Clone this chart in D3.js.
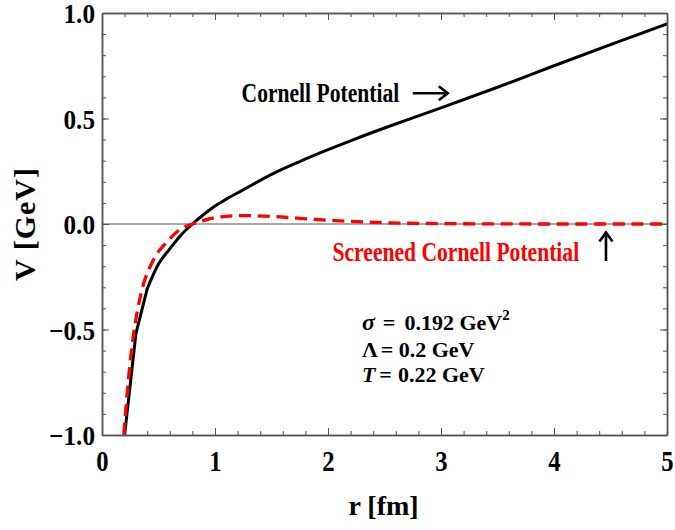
<!DOCTYPE html>
<html>
<head>
<meta charset="utf-8">
<script src="https://cdn.jsdelivr.net/npm/d3@7"></script>
<style>
  body { margin: 0; background: #fff; }
  text { font-family: "Liberation Serif", "Times New Roman", serif; font-weight: bold; }
</style>
</head>
<body>
<svg id="chart"></svg>
<script>
var width = 675
var height = 530
var margin = {top: 13, right: 8, bottom: 95, left: 102}

// r in fm, V in GeV
var cornellR = [0.2, 0.3, 0.4, 0.5, 0.6, 0.7, 0.8, 0.9, 1.0, 1.1, 1.25, 1.5, 1.75, 2.0, 2.25, 2.5, 2.75, 3.0, 3.5, 4.0, 4.5, 5.0]
var cornellV = [-1.0, -0.52, -0.307, -0.19, -0.118, -0.052, 0.0, 0.045, 0.085, 0.118, 0.162, 0.235, 0.296, 0.352, 0.405, 0.455, 0.503, 0.55, 0.648, 0.75, 0.85, 0.948]

var screenedR = [0.193, 0.235, 0.28, 0.35, 0.45, 0.575, 0.7, 0.8, 0.9, 1.0, 1.25, 1.5, 1.75, 2.0, 2.5, 3.0, 4.0, 5.0]
var screenedV = [-1.0, -0.73, -0.52, -0.32, -0.175, -0.085, -0.022, 0.0, 0.017, 0.03, 0.04, 0.036, 0.027, 0.018, 0.006, 0.002, 0.0, 0.0]

var xTicks = [0, 1, 2, 3, 4, 5]
var yTicks = [-1.0, -0.5, 0.0, 0.5, 1.0]
var xMinor = d3.range(0, 5.001, 0.2)
var yMinor = d3.range(-1, 1.001, 0.1)

var w = width - margin.left - margin.right
var h = height - margin.top - margin.bottom

var svg = d3.select("#chart")
	.attr("width", width)
	.attr("height", height)

var g = svg.append("g")
	.attr("transform", "translate(" + margin.left + "," + margin.top + ")")

var x = d3.scaleLinear().domain([0, 5]).range([0, w])
var y = d3.scaleLinear().domain([-1, 1]).range([h, 0])

g.append("clipPath").attr("id", "clip")
	.append("rect").attr("width", w).attr("height", h + 2).attr("y", -1)

// zero line
g.append("line")
	.attr("x1", 0).attr("x2", w)
	.attr("y1", y(0)).attr("y2", y(0))
	.attr("stroke", "#555")
	.attr("stroke-width", 1.2)

var straight = d3.line()
	.x(function(d){ return x(d[0]) })
	.y(function(d){ return y(d[1]) })
var smooth = d3.line()
	.x(function(d){ return x(d[0]) })
	.y(function(d){ return y(d[1]) })
	.curve(d3.curveMonotoneX)

var cornell = d3.zip(cornellR, cornellV)

// the steep start is drawn with straight pieces (as sampled in the original), the rest smooth
g.append("path")
	.datum(cornell.slice(0, 3))
	.attr("clip-path", "url(#clip)")
	.attr("fill", "none")
	.attr("stroke", "black")
	.attr("stroke-width", 3)
	.attr("stroke-linejoin", "round")
	.attr("d", straight)

g.append("path")
	.datum(cornell.slice(2))
	.attr("clip-path", "url(#clip)")
	.attr("fill", "none")
	.attr("stroke", "black")
	.attr("stroke-width", 3)
	.attr("stroke-linecap", "round")
	.attr("d", smooth)

g.append("path")
	.datum(d3.zip(screenedR, screenedV))
	.attr("clip-path", "url(#clip)")
	.attr("fill", "none")
	.attr("stroke", "#f00")
	.attr("stroke-width", 3.3)
	.attr("stroke-dasharray", "12,6.7")
	.attr("d", smooth)

// frame with inward ticks on all sides
function frame(axis, tr) {
	var a = g.append("g").attr("transform", tr).call(axis)
	a.attr("color", "#555")
	a.select(".domain").attr("stroke-width", 1.5)
	return a
}
var none = function(){ return "" }

frame(d3.axisBottom(x).tickValues(xMinor).tickSize(-4).tickSizeOuter(0).tickFormat(none), "translate(0," + h + ")")
var bx = frame(d3.axisBottom(x).tickValues(xTicks).tickSize(-7).tickSizeOuter(0).tickPadding(15).tickFormat(d3.format("d")), "translate(0," + h + ")")
frame(d3.axisTop(x).tickValues(xMinor).tickSize(-4).tickSizeOuter(0).tickFormat(none), "translate(0,0)")
frame(d3.axisTop(x).tickValues(xTicks).tickSize(-7).tickSizeOuter(0).tickFormat(none), "translate(0,0)")
frame(d3.axisLeft(y).tickValues(yMinor).tickSize(-4).tickSizeOuter(0).tickFormat(none), "translate(0,0)")
var ly = frame(d3.axisLeft(y).tickValues(yTicks).tickSize(-7).tickSizeOuter(0).tickPadding(0)
	.tickFormat(function(d){ return d3.format(".1f")(d).replace("-", "\u2212") }), "translate(0,0)")
frame(d3.axisRight(y).tickValues(yMinor).tickSize(-4).tickSizeOuter(0).tickFormat(none), "translate(" + w + ",0)")
frame(d3.axisRight(y).tickValues(yTicks).tickSize(-7).tickSizeOuter(0).tickFormat(none), "translate(" + w + ",0)")

bx.selectAll(".tick text")
	.attr("fill", "black")
	.style("font-size", "29px")
	.attr("transform", "scale(0.85,1)")

ly.selectAll(".tick text")
	.attr("fill", "black")
	.style("font-size", "28px")
	.attr("x", -7 / 0.9)
	.attr("dy", "0.35em")
	.attr("transform", "scale(0.9,1)")

// axis titles
svg.append("text")
	.attr("x", margin.left + w / 2 - 1)
	.attr("y", 515)
	.attr("text-anchor", "middle")
	.style("font-size", "28px")
	.text("r [fm]")

svg.append("text")
	.attr("transform", "translate(35," + (margin.top + y(0)) + ") rotate(-90)")
	.attr("text-anchor", "middle")
	.attr("letter-spacing", "1")
	.style("font-size", "30px")
	.text("V [GeV]")

// curve labels
g.append("text")
	.attr("transform", "translate(" + x(1.235) + "," + y(0.58) + ") scale(0.8,1)")
	.style("font-size", "27px")
	.text("Cornell Potential")

g.append("path")
	.attr("d", "M" + x(2.75) + "," + y(0.62) + "H" + x(3.06)
		+ "M" + (x(3.06) - 9) + "," + (y(0.62) - 7) + "L" + x(3.06) + "," + y(0.62) + "L" + (x(3.06) - 9) + "," + (y(0.62) + 7))
	.attr("fill", "none")
	.attr("stroke", "black")
	.attr("stroke-width", 2.6)

g.append("text")
	.attr("transform", "translate(" + x(2.04) + "," + y(-0.175) + ") scale(0.8,1)")
	.attr("fill", "#f00")
	.style("font-size", "27px")
	.text("Screened Cornell Potential")

g.append("path")
	.attr("d", "M" + x(4.46) + "," + y(-0.175) + "V" + y(-0.04)
		+ "M" + (x(4.46) - 6.5) + "," + (y(-0.04) + 9) + "L" + x(4.46) + "," + y(-0.04) + "L" + (x(4.46) + 6.5) + "," + (y(-0.04) + 9))
	.attr("fill", "none")
	.attr("stroke", "black")
	.attr("stroke-width", 2.6)

// parameter box
var params = g.append("g").style("font-size", "22px")

var t1 = params.append("text").attr("x", x(2.3)).attr("y", y(-0.5))
t1.append("tspan").style("font-style", "italic").style("font-size", "24px").text("σ")
t1.append("tspan").attr("dx", 8).text("=")
t1.append("tspan").attr("dx", 9).text("0.192 GeV")
t1.append("tspan").attr("dy", -10).style("font-size", "15px").text("2")

var t2 = params.append("text").attr("x", x(2.3)).attr("y", y(-0.63))
t2.append("tspan").text("Λ")
t2.append("tspan").attr("dx", 3).text("= 0.2 GeV")

var t3 = params.append("text").attr("x", x(2.3)).attr("y", y(-0.75))
t3.append("tspan").style("font-style", "italic").text("T")
t3.append("tspan").attr("dx", 4).text("=")
t3.append("tspan").attr("dx", 6).text("0.22 GeV")
</script>
</body>
</html>
